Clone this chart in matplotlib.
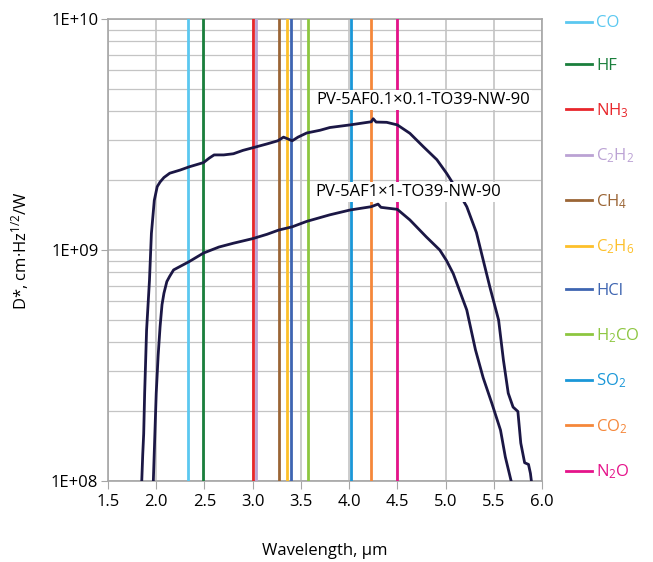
import math

import matplotlib
matplotlib.use("Agg")
import matplotlib.pyplot as plt
from matplotlib.ticker import FixedLocator, FuncFormatter, NullFormatter

plt.rcParams["font.family"] = ["Open Sans", "DejaVu Sans"]
plt.rcParams["mathtext.fontset"] = "custom"
plt.rcParams["mathtext.rm"] = "Open Sans"
plt.rcParams["mathtext.it"] = "Open Sans"

# detectivity curves
wl_small = [1.85, 1.86, 1.87, 1.88, 1.90, 1.93, 1.95, 1.98, 2.01, 2.04, 2.08, 2.14,
            2.25, 2.34, 2.49, 2.55, 2.60, 2.70, 2.80, 2.90, 3.00, 3.15, 3.26, 3.32,
            3.37, 3.41, 3.47, 3.56, 3.70, 3.80, 4.01, 4.15, 4.23, 4.25, 4.28, 4.39,
            4.50, 4.63, 4.77, 4.91, 5.01, 5.12, 5.22, 5.32, 5.39, 5.46, 5.55, 5.60,
            5.65, 5.70, 5.75, 5.78, 5.82, 5.86, 5.88, 5.89]
d_small = [1.0e8, 1.3e8, 1.6e8, 2.4e8, 4.5e8, 7.4e8, 1.18e9, 1.64e9, 1.88e9, 1.97e9,
           2.06e9, 2.15e9, 2.22e9, 2.29e9, 2.39e9, 2.5e9, 2.58e9, 2.58e9, 2.61e9,
           2.70e9, 2.77e9, 2.88e9, 2.97e9, 3.08e9, 3.02e9, 2.97e9, 3.08e9, 3.21e9,
           3.30e9, 3.39e9, 3.48e9, 3.55e9, 3.59e9, 3.7e9, 3.58e9, 3.57e9, 3.48e9,
           3.2e9, 2.8e9, 2.46e9, 2.15e9, 1.82e9, 1.54e9, 1.19e9, 9.06e8, 6.9e8,
           4.98e8, 3.34e8, 2.4e8, 2.09e8, 2.0e8, 1.46e8, 1.2e8, 1.18e8, 1.08e8, 1.0e8]

wl_large = [1.97, 1.99, 2.00, 2.02, 2.04, 2.06, 2.08, 2.11, 2.14, 2.18, 2.25, 2.34,
            2.49, 2.65, 2.80, 3.00, 3.15, 3.27, 3.41, 3.56, 3.80, 4.01, 4.23, 4.30,
            4.33, 4.50, 4.63, 4.80, 4.94, 5.01, 5.08, 5.22, 5.31, 5.39, 5.48, 5.57,
            5.62, 5.68]
d_large = [1.0e8, 1.8e8, 2.4e8, 3.5e8, 4.66e8, 5.8e8, 6.5e8, 7.3e8, 7.7e8, 8.2e8,
           8.5e8, 8.9e8, 9.7e8, 1.03e9, 1.07e9, 1.12e9, 1.17e9, 1.22e9, 1.26e9,
           1.33e9, 1.42e9, 1.49e9, 1.54e9, 1.58e9, 1.53e9, 1.5e9, 1.35e9, 1.14e9,
           1.0e9, 9.0e8, 7.9e8, 5.5e8, 3.7e8, 2.8e8, 2.17e8, 1.66e8, 1.27e8, 1.0e8]

label_small = "PV-5AF0.1×0.1-TO39-NW-90"
label_large = "PV-5AF1×1-TO39-NW-90"

# gas absorption lines
gases = ["CO", "HF", "NH$_\\mathregular{3}$", "C$_\\mathregular{2}$H$_\\mathregular{2}$",
         "CH$_\\mathregular{4}$", "C$_\\mathregular{2}$H$_\\mathregular{6}$", "HCl",
         "H$_\\mathregular{2}$CO", "SO$_\\mathregular{2}$", "CO$_\\mathregular{2}$",
         "N$_\\mathregular{2}$O"]
gas_wl = [2.334, 2.487, 3.0, 3.031, 3.27, 3.356, 3.40, 3.57, 4.017, 4.23, 4.50]
gas_colors = ["#5bc8f0", "#1a7f3c", "#e8262b", "#bba2d4", "#9b6535", "#fdc02a",
              "#3e65b1", "#8dc640", "#1a97d8", "#f5873a", "#e5138a"]

fig = plt.figure(figsize=(6.53, 5.62), dpi=100)
ax = fig.add_axes([0.1654, 0.1441, 0.6646, 0.8221])

ax.set_yscale("log")
ax.set_xlim(1.5, 6.0)
ax.set_ylim(1e8, 1e10)

handles = []
for g, w, c in zip(gases, gas_wl, gas_colors):
    h = ax.axvline(w, color=c, lw=2, zorder=3, label=g)
    handles.append(h)

ax.plot(wl_small, d_small, color="#1b1745", lw=2, zorder=4)
ax.plot(wl_large, d_large, color="#1b1745", lw=2, zorder=4)

box = dict(facecolor="white", edgecolor="none", pad=1.5)
ax.text(3.656, 4.46e9, label_small, fontsize=12, ha="left", va="center",
        bbox=box, zorder=5)
ax.text(3.646, 1.79e9, label_large, fontsize=12, ha="left", va="center",
        bbox=box, zorder=5)

# grid
ax.set_xticks([1.5, 2.0, 2.5, 3.0, 3.5, 4.0, 4.5, 5.0, 5.5, 6.0])
ax.xaxis.set_major_formatter(FuncFormatter(lambda v, p: f"{v:.1f}"))
ax.yaxis.set_major_locator(FixedLocator([1e8, 1e9, 1e10]))
ax.yaxis.set_major_formatter(FuncFormatter(lambda v, p: "1E+%02d" % round(math.log10(v))))
minor = [m * 10 ** e for e in (8, 9) for m in range(2, 10)]
ax.yaxis.set_minor_locator(FixedLocator(minor))
ax.yaxis.set_minor_formatter(NullFormatter())
ax.grid(True, which="major", color="#c4c4c4", lw=1.2, zorder=1)
ax.grid(True, which="minor", axis="y", color="#c4c4c4", lw=0.9, zorder=1)
ax.tick_params(axis="x", which="major", length=6, color="#a6a6a6", labelsize=12, pad=3)
ax.tick_params(axis="y", which="major", length=5, color="#a6a6a6", labelsize=12, pad=2)
ax.tick_params(axis="y", which="minor", length=0)
for s in ax.spines.values():
    s.set_color("#a6a6a6")
    s.set_linewidth(1.2)

ax.set_xlabel("Wavelength, µm", fontsize=12, labelpad=24)
ax.set_ylabel("D*, cm·Hz$^{\\mathregular{1/2}}$/W", fontsize=12, labelpad=14)

leg = ax.legend(handles=handles, loc="upper left", bbox_to_anchor=(1.04, 1.022),
                frameon=False, fontsize=12, handlelength=1.56, handletextpad=0.25,
                labelspacing=1.61, borderaxespad=0)
for t, c in zip(leg.get_texts(), gas_colors):
    t.set_color(c)

fig.savefig("out.png", dpi=100)
